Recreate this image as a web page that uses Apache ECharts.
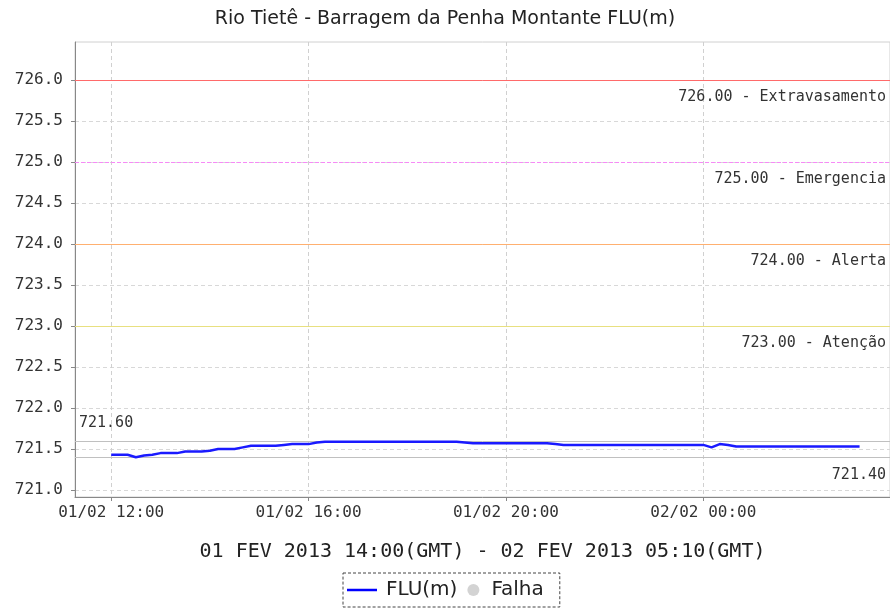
<!DOCTYPE html>
<html>
<head>
<meta charset="utf-8">
<script src="https://cdn.jsdelivr.net/npm/echarts@6/dist/echarts.min.js"></script>
<style>
  html, body { margin: 0; padding: 0; background: #fff; }
  #chart { width: 890px; height: 614px; }
</style>
</head>
<body>
<div id="chart"></div>
<script>
// leituras a cada 10 min, 01/02 12:00 ate 02/02 03:10 (hora local)
var startTime = Date.UTC(2013, 1, 1, 12, 0);
var stepMs = 10 * 60 * 1000;
var nivel = [
  721.43, 721.43, 721.43, 721.40, 721.42, 721.43, 721.45, 721.45, 721.45, 721.47,
  721.47, 721.47, 721.48, 721.50, 721.50, 721.50, 721.52, 721.54, 721.54, 721.54,
  721.54, 721.55, 721.56, 721.56, 721.56, 721.58, 721.59, 721.59, 721.59, 721.59,
  721.59, 721.59, 721.59, 721.59, 721.59, 721.59, 721.59, 721.59, 721.59, 721.59,
  721.59, 721.59, 721.59, 721.58, 721.57, 721.57, 721.57, 721.57, 721.57, 721.57,
  721.57, 721.57, 721.57, 721.57, 721.56, 721.55, 721.55, 721.55, 721.55, 721.55,
  721.55, 721.55, 721.55, 721.55, 721.55, 721.55, 721.55, 721.55, 721.55, 721.55,
  721.55, 721.55, 721.55, 721.52, 721.56, 721.55, 721.53, 721.53, 721.53, 721.53,
  721.53, 721.53, 721.53, 721.53, 721.53, 721.53, 721.53, 721.53, 721.53, 721.53,
  721.53, 721.53
];
var cotas = [726, 725, 724, 723];
var cotaNomes = ['726.00 - Extravasamento', '725.00 - Emergencia', '724.00 - Alerta', '723.00 - Atenção'];
var cotaCores = ['#ff6a6a', '#f78af7', '#ffb070', '#e8e080'];
var limites = [721.60, 721.40];
var yTicks = [721.0, 721.5, 722.0, 722.5, 723.0, 723.5, 724.0, 724.5, 725.0, 725.5, 726.0];
var xTicks = [Date.UTC(2013, 1, 1, 12), Date.UTC(2013, 1, 1, 16), Date.UTC(2013, 1, 1, 20), Date.UTC(2013, 1, 2, 0)];

var pad = function (n) { return (n < 10 ? '0' : '') + n; };
var serie = [];
for (var i = 0; i < nivel.length; i++) {
  serie.push([startTime + i * stepMs, nivel[i]]);
}

var linhas = [];
for (var k = 0; k < cotas.length; k++) {
  linhas.push({
    yAxis: cotas[k],
    lineStyle: { color: cotaCores[k], type: k == 1 ? [4, 2] : 'solid', width: 1 },
    label: { formatter: cotaNomes[k], position: 'insideEndBottom' }
  });
}
linhas.push({
  yAxis: limites[0],
  lineStyle: { color: '#c0c0c0', type: 'solid', width: 1 },
  label: { formatter: limites[0].toFixed(2), position: 'insideStartTop' }
});
linhas.push({
  yAxis: limites[1],
  lineStyle: { color: '#c0c0c0', type: 'solid', width: 1 },
  label: { formatter: limites[1].toFixed(2), position: 'insideEndBottom' }
});

var mono = 'DejaVu Sans Mono';
var myChart = echarts.init(document.getElementById('chart'));
var option = {
  animation: false,
  title: {
    text: 'Rio Tietê - Barragem da Penha Montante FLU(m)',
    left: 'center',
    top: 5,
    textStyle: { fontFamily: 'DejaVu Sans', fontSize: 19, fontWeight: 'normal', color: '#222' }
  },
  legend: {
    left: 343,
    top: 573,
    data: [
      { name: 'FLU(m)', icon: 'path://M0,10 L30,10 L30,12.5 L0,12.5 Z', textStyle: { padding: [0, 0, 0, 4] } },
      { name: 'Falha', icon: 'circle', textStyle: { padding: [0, 0, 0, -2] } }
    ],
    itemWidth: 30,
    itemHeight: 12,
    itemGap: 10,
    padding: [7, 16, 7, 4],
    borderColor: '#444',
    borderWidth: 1,
    borderType: [3, 2],
    textStyle: { fontFamily: 'DejaVu Sans', fontSize: 20, color: '#222' }
  },
  grid: {
    left: 75, top: 42, right: 0, bottom: 117,
    show: true, borderColor: '#d0d0d0', borderWidth: 1
  },
  xAxis: {
    type: 'value',
    min: Date.UTC(2013, 1, 1, 11, 16),
    max: Date.UTC(2013, 1, 2, 3, 47),
    name: '01 FEV 2013 14:00(GMT) - 02 FEV 2013 05:10(GMT)',
    nameLocation: 'middle',
    nameGap: 45,
    nameTextStyle: { fontFamily: mono, fontSize: 20, color: '#222' },
    axisLine: { lineStyle: { color: '#888' } },
    axisTick: { customValues: xTicks, length: 4, lineStyle: { color: '#888' } },
    axisLabel: {
      customValues: xTicks,
      margin: 8,
      fontFamily: mono,
      fontSize: 16,
      color: '#333',
      formatter: function (v) {
        var d = new Date(v);
        return pad(d.getUTCDate()) + '/' + pad(d.getUTCMonth() + 1) + ' ' + pad(d.getUTCHours()) + ':' + pad(d.getUTCMinutes());
      }
    },
    splitLine: { show: true, lineStyle: { color: '#d0d0d0', type: [4, 3] } }
  },
  yAxis: {
    type: 'value',
    min: 720.915,
    max: 726.463,
    axisLine: { show: true, lineStyle: { color: '#888' } },
    axisTick: { show: true, customValues: yTicks, length: 4, lineStyle: { color: '#888' } },
    axisLabel: {
      customValues: yTicks,
      margin: 12,
      fontFamily: mono,
      fontSize: 16,
      color: '#333',
      formatter: function (v) { return v.toFixed(1); }
    },
    splitLine: { show: true, lineStyle: { color: '#d8d8d8', type: [4, 3] } }
  },
  series: [
    {
      name: 'Falha',
      type: 'scatter',
      data: [],
      color: '#c8c8c8',
      z: 1,
      markLine: {
        silent: true,
        symbol: 'none',
        label: { fontFamily: mono, fontSize: 15, color: '#333', distance: [4, 10] },
        data: linhas
      }
    },
    {
      name: 'FLU(m)',
      type: 'line',
      data: serie,
      symbol: 'none',
      color: '#0000ff',
      z: 5,
      lineStyle: { color: '#1a1aff', width: 2.5 }
    }
  ]
};
myChart.setOption(option);
</script>
</body>
</html>
